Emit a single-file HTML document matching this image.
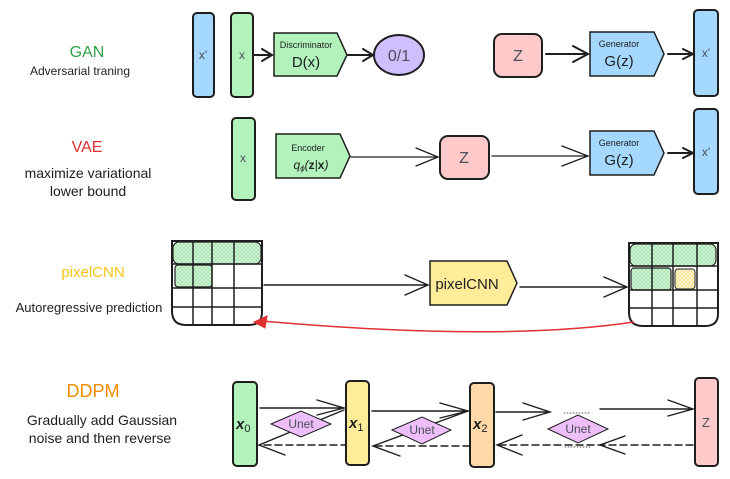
<!DOCTYPE html>
<html><head><meta charset="utf-8"><style>
html,body{margin:0;padding:0;background:#fff;}
svg{display:block;}
text{font-family:"Liberation Sans",sans-serif;}
</style></head><body>
<svg width="730" height="479" viewBox="0 0 730 479" xmlns="http://www.w3.org/2000/svg">
<defs>
<pattern id="hg" width="4" height="4" patternUnits="userSpaceOnUse">
<rect width="4" height="4" fill="#d8f5dc"/><path d="M0 0L4 4M4 0L0 4" stroke="#8fdc9c" stroke-width="0.6"/></pattern>
<pattern id="hy" width="4" height="4" patternUnits="userSpaceOnUse">
<rect width="4" height="4" fill="#fff6cf"/><path d="M0 0L4 4M4 0L0 4" stroke="#f5dc85" stroke-width="0.6"/></pattern>
</defs>
<text x="87" y="57" font-size="16" fill="#2f9e44" text-anchor="middle">GAN</text>
<text x="80" y="75" font-size="12" fill="#1e1e1e" text-anchor="middle">Adversarial traning</text>
<text x="87" y="152" font-size="16" fill="#e03131" text-anchor="middle">VAE</text>
<text x="88" y="178" font-size="14" fill="#1e1e1e" text-anchor="middle">maximize variational</text>
<text x="88" y="196" font-size="14" fill="#1e1e1e" text-anchor="middle">lower bound</text>
<text x="93" y="277" font-size="15" fill="#f5c518" text-anchor="middle">pixelCNN</text>
<text x="89" y="312" font-size="13" fill="#1e1e1e" text-anchor="middle">Autoregressive prediction</text>
<text x="93" y="397" font-size="18" fill="#f08c00" text-anchor="middle">DDPM</text>
<text x="102" y="425" font-size="14" fill="#1e1e1e" text-anchor="middle">Gradually add Gaussian</text>
<text x="100" y="443" font-size="14" fill="#1e1e1e" text-anchor="middle">noise and then reverse</text>

<g stroke="#1e1e1e" stroke-width="2">
<rect x="193" y="13" width="21" height="84" rx="4" fill="#a5d8ff"/>
<rect x="231" y="13" width="22" height="84" rx="4" fill="#b2f2bb"/>
<path d="M274 33H337L347 55L337 76H274Z" fill="#b2f2bb" stroke-width="1.5"/>
<ellipse cx="399" cy="55" rx="25" ry="20" fill="#d0bfff"/>
<rect x="494" y="34" width="48" height="43" rx="8" fill="#ffc9c9"/>
<path d="M590 32H654L664 54L654 76H590Z" fill="#a5d8ff" stroke-width="1.5"/>
<rect x="694" y="10" width="24" height="86" rx="4" fill="#a5d8ff"/>
<rect x="232" y="118" width="23" height="82" rx="4" fill="#b2f2bb"/>
<path d="M276 134H340L350 156L340 178H276Z" fill="#b2f2bb" stroke-width="1.5"/>
<rect x="440" y="136" width="49" height="43" rx="8" fill="#ffc9c9"/>
<path d="M590 131H654L664 153L654 175H590Z" fill="#a5d8ff" stroke-width="1.5"/>
<rect x="694" y="109" width="24" height="85" rx="4" fill="#a5d8ff"/>
</g>
<g fill="#1e1e1e" text-anchor="middle">
<text x="203" y="59" font-size="12" fill="#495057">x'</text>
<text x="242" y="59" font-size="12" fill="#495057">x</text>
<text x="306" y="48" font-size="9">Discriminator</text>
<text x="306" y="67" font-size="15">D(x)</text>
<text x="399" y="61" font-size="16" fill="#495057">0/1</text>
<text x="518" y="61" font-size="16" fill="#495057">Z</text>
<text x="619" y="47" font-size="9">Generator</text>
<text x="619" y="66" font-size="15">G(z)</text>
<text x="706" y="57" font-size="12" fill="#495057">x'</text>
<text x="243" y="162" font-size="12" fill="#495057">x</text>
<text x="308" y="151" font-size="9">Encoder</text>
<text x="311" y="169" font-size="12" font-style="italic" font-family="Liberation Serif">q<tspan font-size="8" dy="2">ϕ</tspan><tspan dy="-2">(</tspan><tspan font-weight="bold" font-style="normal">z</tspan>|<tspan font-weight="bold" font-style="normal">x</tspan>)</text>
<text x="464" y="163" font-size="16" fill="#495057">Z</text>
<text x="619" y="146" font-size="9">Generator</text>
<text x="619" y="165" font-size="15">G(z)</text>
<text x="706" y="156" font-size="12" fill="#495057">x'</text>
</g>
<g fill="none" stroke="#1e1e1e" stroke-width="2" stroke-linecap="round">
<path d="M254 55H272M262 49L272 55L262 61"/>
<path d="M348 55H373M363 49L373 55L363 61"/>
<path d="M546 54H588M573 46L588 54L573 62"/>
<path d="M668 54H693M683 49L693 54L683 59"/>
<path d="M668 153H693M683 148L693 153L683 158"/>
<path d="M351 157H438M416 148L438 157L416 166" stroke-width="1.3"/>
<path d="M492 156H588M562 146L588 156L562 166" stroke-width="1.3"/>
</g>
<g>
<rect x="173" y="242" width="88" height="22" rx="6" fill="url(#hg)" stroke="#1e1e1e" stroke-width="1.2"/>
<rect x="175" y="265" width="37" height="22" rx="3" fill="url(#hg)" stroke="#1e1e1e" stroke-width="1.2"/>
<rect x="630" y="244" width="86" height="22" rx="6" fill="url(#hg)" stroke="#1e1e1e" stroke-width="1.2"/>
<rect x="631" y="268" width="40" height="22" rx="3" fill="url(#hg)" stroke="#1e1e1e" stroke-width="1.2"/>
<rect x="675" y="269" width="20" height="20" rx="3" fill="url(#hy)" stroke="#1e1e1e" stroke-width="1"/>
</g>
<g fill="none" stroke="#1e1e1e" stroke-width="2">
<path d="M172 241H262V312Q262 325 249 325H186Q172 325 172 311Z"/>
<path d="M193 241V325M212 241V325M234 241V325M172 264H262M172 288H262M172 307H262" stroke-width="1.5"/>
<path d="M629 243H718V314Q718 326 705 326H643Q629 326 629 312Z"/>
<path d="M652 243V326M673 243V326M697 243V326M629 266H718M629 290H718M629 308H718" stroke-width="1.5"/>
</g>
<path d="M430 261H507L517 283L507 305H430Z" fill="#ffec99" stroke="#1e1e1e" stroke-width="1.5"/>
<text x="467" y="289" font-size="15" fill="#1e1e1e" text-anchor="middle">pixelCNN</text>
<g fill="none" stroke="#1e1e1e" stroke-width="1.4" stroke-linecap="round">
<path d="M264 285H428M405 275L428 285L405 295"/>
<path d="M520 287H627M604 277L627 287L604 297"/>
</g>
<path d="M634 322Q500 342 262 321" fill="none" stroke="#e03131" stroke-width="1.5"/>
<path d="M254 322L267 316L265 328Z" fill="#e03131" stroke="#e03131"/>
<g stroke="#1e1e1e" stroke-width="2">
<rect x="233" y="382" width="24" height="84" rx="4" fill="#b2f2bb"/>
<rect x="346" y="381" width="23" height="84" rx="4" fill="#ffec99"/>
<rect x="470" y="383" width="24" height="84" rx="4" fill="#ffd8a8"/>
<rect x="695" y="378" width="23" height="88" rx="4" fill="#ffc9c9"/>
</g>
<g fill="none" stroke="#1e1e1e" stroke-width="1.4" stroke-linecap="round">
<path d="M260 408H344M317 400L344 408L317 415"/>
<path d="M372 411H468M440 403L468 411L440 418"/>
<path d="M496 412H550M523 403L550 412L523 420"/>
<path d="M600 409H693M668 400L693 409L668 416"/>
<path d="M264 445H345" stroke-dasharray="7 4"/>
<path d="M344 410L259 445L285 455"/>
<path d="M375 446H470" stroke-dasharray="7 4"/>
<path d="M468 411L373 446L400 456"/>
<path d="M499 445H693" stroke-dasharray="7 4"/>
<path d="M522 435L497 445L522 455"/>
<path d="M625 436L600 445L625 454"/>
<path d="M564 413H590M565 447H592" stroke-width="0.8" stroke-dasharray="1 2"/>
</g>
<g stroke="#1e1e1e" stroke-width="1">
<path d="M271 424L301 411L331 424L301 437Z" fill="#eebefa"/>
<path d="M392 430L422 417L451 430L422 444Z" fill="#eebefa"/>
<path d="M548 429L578 415L608 429L578 443Z" fill="#eebefa"/>
</g>
<g font-size="12" fill="#495057" text-anchor="middle">
<text x="301" y="428">Unet</text>
<text x="422" y="434">Unet</text>
<text x="578" y="433">Unet</text>
<text x="706" y="427" font-size="13">Z</text>
</g>
<g font-family="Liberation Serif" font-style="italic" font-weight="bold" font-size="15" fill="#1e1e1e">
<text x="236" y="429">x<tspan font-size="11" font-weight="normal" font-style="normal" dy="3">0</tspan></text>
<text x="349" y="428">x<tspan font-size="11" font-weight="normal" font-style="normal" dy="3">1</tspan></text>
<text x="473" y="429">x<tspan font-size="11" font-weight="normal" font-style="normal" dy="3">2</tspan></text>
</g>
</svg>
</body></html>
